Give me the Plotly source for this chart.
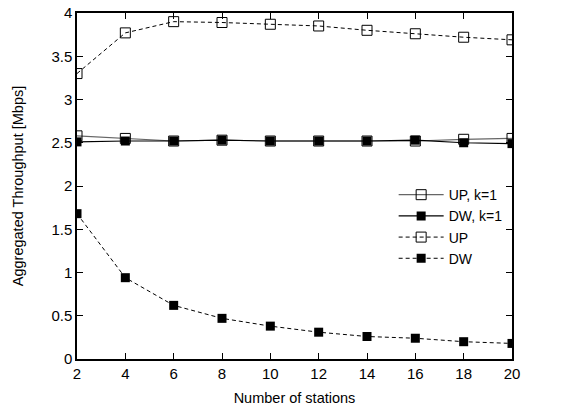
import plotly.graph_objects as go

stations = [2, 4, 6, 8, 10, 12, 14, 16, 18, 20]
up_k1 = [2.58, 2.55, 2.52, 2.53, 2.52, 2.52, 2.52, 2.52, 2.54, 2.55]
dw_k1 = [2.51, 2.52, 2.52, 2.53, 2.52, 2.52, 2.52, 2.53, 2.50, 2.49]
up = [3.30, 3.77, 3.90, 3.89, 3.87, 3.85, 3.80, 3.76, 3.72, 3.69]
dw = [1.68, 0.94, 0.62, 0.47, 0.38, 0.31, 0.26, 0.24, 0.20, 0.18]

x_ticks = [2, 4, 6, 8, 10, 12, 14, 16, 18, 20]
y_ticks = [0, 0.5, 1, 1.5, 2, 2.5, 3, 3.5, 4]
y_labels = ["0", "0.5", "1", "1.5", "2", "2.5", "3", "3.5", "4"]

FONT = "Liberation Sans, Arial, sans-serif"

fig = go.Figure()
fig.add_trace(go.Scatter(x=stations, y=up_k1, name="UP, k=1", mode="lines+markers",
                         line=dict(color="#666666", width=1.2),
                         marker=dict(symbol="square-open", size=10, color="black", line=dict(width=1))))
fig.add_trace(go.Scatter(x=stations, y=dw_k1, name="DW, k=1", mode="lines+markers",
                         line=dict(color="black", width=1.2),
                         marker=dict(symbol="square", size=9, color="black")))
fig.add_trace(go.Scatter(x=stations, y=up, name="UP", mode="lines+markers",
                         line=dict(color="black", width=1, dash="4px,3px"),
                         marker=dict(symbol="square-open", size=10, color="black", line=dict(width=1))))
fig.add_trace(go.Scatter(x=stations, y=dw, name="DW", mode="lines+markers",
                         line=dict(color="black", width=1, dash="4px,3px"),
                         marker=dict(symbol="square", size=9, color="black")))

axis_common = dict(showline=True, linecolor="black", linewidth=1.5, mirror="allticks",
                   ticks="inside", ticklen=6, tickcolor="black", tickwidth=1,
                   showgrid=False, zeroline=False, automargin=False,
                   tickfont=dict(family=FONT, size=15, color="black"))

fig.update_xaxes(range=[2, 20], tickvals=x_ticks,
                 title=dict(text="Number of stations", standoff=12,
                            font=dict(family=FONT, size=14.5, color="black")),
                 **axis_common)
fig.update_yaxes(range=[0, 4], tickvals=y_ticks, ticktext=y_labels,
                 title=dict(text="Aggregated Throughput [Mbps]", standoff=24,
                            font=dict(family=FONT, size=14.5, color="black")),
                 **axis_common)

fig.update_layout(
    width=578, height=412,
    margin=dict(l=77, r=66, t=13, b=53),
    plot_bgcolor="white", paper_bgcolor="white",
    showlegend=True,
    legend=dict(x=0.99, y=0.52, xanchor="right", yanchor="top",
                bgcolor="rgba(0,0,0,0)", borderwidth=0, itemwidth=45,
                tracegroupgap=0,
                font=dict(family=FONT, size=14, color="black")),
)

fig.write_html("out.html")
